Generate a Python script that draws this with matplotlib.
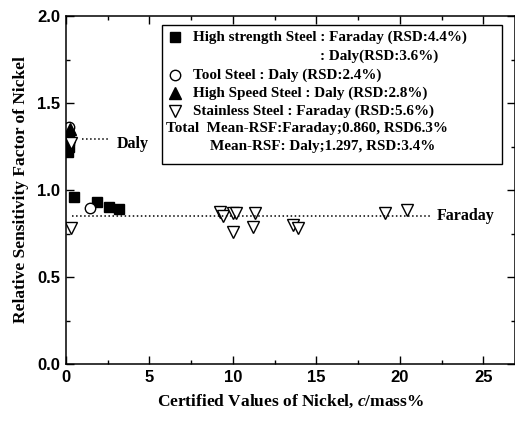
import matplotlib
matplotlib.use("Agg")
import matplotlib.pyplot as plt
from matplotlib.patches import Rectangle
from matplotlib.ticker import MultipleLocator, FormatStrFormatter

SERIF = "Liberation Serif"
SANS = "Liberation Sans"
plt.rcParams["mathtext.fontset"] = "custom"
plt.rcParams["mathtext.it"] = "Liberation Serif:italic:bold"
plt.rcParams["mathtext.rm"] = "Liberation Serif:bold"

# data (x = certified Ni mass%, y = RSF)
hs_far_x = [0.48, 1.84, 2.58, 3.18]
hs_far_y = [0.96, 0.93, 0.90, 0.89]
hs_daly_x = [0.12, 0.15, 0.18]
hs_daly_y = [1.22, 1.25, 1.29]
tool_x = [1.44, 0.15, 0.2]
tool_y = [0.897, 1.33, 1.36]
hss_x = [0.15, 0.22]
hss_y = [1.31, 1.35]
st_x = [0.28, 0.28, 9.2, 9.4, 10.0, 10.2, 10.0, 11.3, 11.2, 13.6, 13.9, 19.1, 20.4]
st_y = [0.78, 1.27, 0.875, 0.85, 0.865, 0.865, 0.76, 0.87, 0.79, 0.80, 0.78, 0.865, 0.885]

mean_far = 0.85
mean_daly = 1.293

fig = plt.figure(figsize=(5.15, 4.21), dpi=100)
ax = fig.add_axes([66 / 515, 1 - 364 / 421, 449 / 515, 348 / 421])

ax.plot(hs_far_x, hs_far_y, "s", color="black", ms=7)
ax.plot(hs_daly_x, hs_daly_y, "s", color="black", ms=7)
ax.plot(tool_x, tool_y, "o", mfc="white", mec="black", ms=7.5, mew=1)
ax.plot(hss_x, hss_y, "^", color="black", ms=8)
ax.plot(st_x, st_y, "v", mfc="white", mec="black", ms=9, mew=1)

# mean lines
ax.plot([0.36, 21.8], [mean_far, mean_far], ":", color="black", lw=1.1)
ax.plot([0.96, 2.64], [mean_daly, mean_daly], ":", color="black", lw=1.1)
ax.text(22.2, mean_far, "Faraday", family=SERIF, fontweight="bold", fontsize=11.5,
        va="center")
ax.text(3.05, mean_daly - 0.03, "Daly", family=SERIF, fontweight="bold", fontsize=11.5,
        va="center")

ax.set_xlim(0, 26.9)
ax.set_ylim(0, 2.0)
ax.xaxis.set_major_locator(MultipleLocator(5))
ax.xaxis.set_minor_locator(MultipleLocator(2.5))
ax.yaxis.set_major_locator(MultipleLocator(0.5))
ax.yaxis.set_minor_locator(MultipleLocator(0.25))
ax.yaxis.set_major_formatter(FormatStrFormatter("%.1f"))
ax.tick_params(which="both", direction="in", top=True, right=True, width=1)
ax.tick_params(which="major", length=6, pad=4)
ax.tick_params(which="minor", length=3)
for lab in ax.get_xticklabels() + ax.get_yticklabels():
    lab.set_family(SANS)
    lab.set_fontweight("bold")
    lab.set_fontsize(12)
for sp in ax.spines.values():
    sp.set_linewidth(1.1)

ax.set_xlabel(r"Certified Values of Nickel, $c$/mass%", family=SERIF,
              fontweight="bold", fontsize=12.5, labelpad=6)
ax.set_ylabel("Relative Sensitivity Factor of Nickel", family=SERIF,
              fontweight="bold", fontsize=12.5, labelpad=6)

# hand-built legend box
tr = ax.transAxes
ax.add_patch(Rectangle((0.214, 0.575), 0.757, 0.399, transform=tr, fill=False,
                       ec="black", lw=1, zorder=5))
mx, tx = 0.243, 0.283
rows = [0.940, 0.885, 0.830, 0.779, 0.727, 0.678, 0.626]
kw = dict(transform=tr, family=SERIF, fontweight="bold", fontsize=10.9, va="center",
          zorder=6)
ax.plot(mx, rows[0], "s", color="black", ms=7, transform=tr, clip_on=False)
ax.text(tx, rows[0], "High strength Steel : Faraday (RSD:4.4%)", **kw)
ax.text(0.566, rows[1], ": Daly(RSD:3.6%)", **kw)
ax.plot(mx, rows[2], "o", mfc="white", mec="black", ms=7.5, transform=tr, clip_on=False)
ax.text(tx, rows[2], "Tool Steel : Daly (RSD:2.4%)", **kw)
ax.plot(mx, rows[3], "^", color="black", ms=8, transform=tr, clip_on=False)
ax.text(tx, rows[3], "High Speed Steel : Daly (RSD:2.8%)", **kw)
ax.plot(mx, rows[4], "v", mfc="white", mec="black", ms=9, transform=tr, clip_on=False)
ax.text(tx, rows[4], "Stainless Steel : Faraday (RSD:5.6%)", **kw)
ax.text(0.223, rows[5], "Total  Mean-RSF:Faraday;0.860, RSD6.3%", **kw)
ax.text(0.321, rows[6], "Mean-RSF: Daly;1.297, RSD:3.4%", **kw)

fig.savefig("out.png", dpi=100, facecolor="white")
